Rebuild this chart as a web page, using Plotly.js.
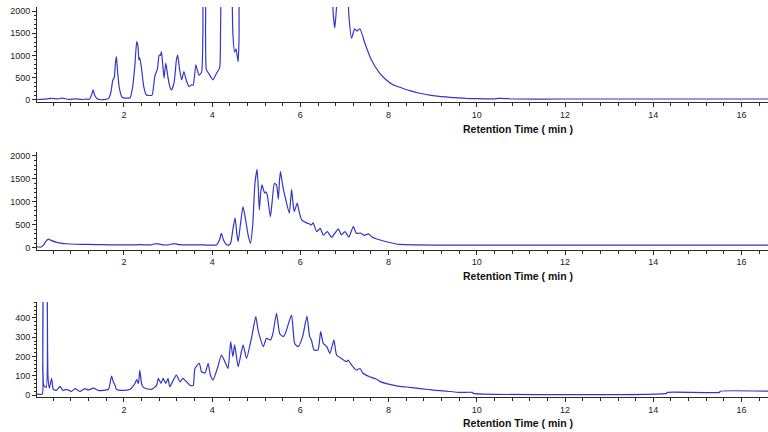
<!DOCTYPE html>
<html>
<head>
<meta charset="utf-8">
<script src="https://cdn.plot.ly/plotly-3.0.1.min.js"></script>
<style>html,body{margin:0;padding:0;background:#fff;}#chart{width:768px;height:432px;}</style>
</head>
<body>
<div id="chart"></div>
<script>
// Chromatogram 1 (top)
const t1 = [0.03,0.2,0.35,0.5,0.6,0.75,0.9,1.05,1.15,1.22,1.27,1.30,1.34,1.40,1.48,1.58,1.65,1.70,1.75,1.78,1.81,1.83,1.86,1.90,1.96,2.05,2.14,2.20,2.25,2.29,2.32,2.34,2.36,2.40,2.45,2.51,2.58,2.64,2.70,2.76,2.80,2.83,2.85,2.88,2.91,2.95,3.0,3.04,3.08,3.14,3.19,3.22,3.26,3.31,3.36,3.42,3.48,3.53,3.57,3.63,3.67,3.70,3.76,3.79,3.81,3.84,3.85,3.87,3.92,3.97,4.02,4.10,4.17,4.19,4.21,4.30,4.44,4.47,4.51,4.54,4.59,4.61,4.63,5.5,6.71,6.74,6.78,6.82,6.86,6.95,7.05,7.10,7.16,7.23,7.28,7.35,7.46,7.61,7.80,7.95,8.10,8.30,8.48,8.70,8.93,9.15,9.39,9.76,10.0,10.4,10.5,10.7,10.8,12,14,16.6];
const y1 = [10,20,35,25,40,15,25,10,20,15,120,225,100,20,5,15,30,150,450,500,850,975,600,250,60,40,50,300,800,1310,1200,900,945,700,300,110,100,110,530,700,1010,1000,1090,800,490,830,500,300,225,400,900,1010,700,450,640,420,300,340,330,790,650,560,620,1500,2600,2600,1500,675,600,520,450,600,720,1500,3000,5000,3000,1500,1080,1150,860,1400,3000,8000,3000,2000,1620,2100,3000,4000,3000,1900,1390,1600,1550,1600,1280,900,600,450,340,270,210,150,110,80,60,35,28,25,35,30,22,22,22,22];

// Chromatogram 2 (middle)
const t2 = [0.03,0.12,0.18,0.24,0.29,0.35,0.48,0.60,0.70,0.9,1.2,1.5,1.8,2.1,2.4,2.6,2.74,2.85,3.0,3.14,3.25,3.5,3.8,4.1,4.16,4.21,4.26,4.32,4.36,4.42,4.47,4.52,4.56,4.59,4.64,4.70,4.76,4.82,4.87,4.92,4.97,5.02,5.05,5.07,5.10,5.13,5.19,5.22,5.25,5.32,5.36,5.41,5.46,5.50,5.53,5.55,5.60,5.67,5.75,5.80,5.83,5.86,5.93,5.98,6.03,6.14,6.20,6.25,6.29,6.37,6.45,6.52,6.61,6.71,6.86,6.93,7.01,7.10,7.20,7.27,7.37,7.45,7.54,7.63,7.73,7.95,8.25,8.6,9.5,10.5,12,14,16.6];
const y2 = [20,15,60,150,185,160,115,95,85,75,70,65,60,60,65,60,90,65,60,90,65,60,60,60,150,310,160,70,55,100,400,650,300,130,500,895,600,250,95,500,1400,1710,1200,820,1200,1370,1190,1220,1150,675,1000,1400,1370,1055,1500,1660,1350,1040,750,1270,1000,785,970,750,605,540,520,495,540,350,420,275,350,225,410,280,350,230,460,315,315,270,300,230,190,130,70,60,55,55,55,55,55];

// Chromatogram 3 (bottom)
const t3 = [0.03,0.15,0.16,0.17,0.185,0.24,0.26,0.28,0.31,0.36,0.40,0.47,0.55,0.62,0.70,0.81,0.89,1.0,1.12,1.19,1.31,1.42,1.53,1.65,1.72,1.76,1.80,1.83,1.98,2.14,2.25,2.29,2.33,2.36,2.40,2.44,2.52,2.63,2.74,2.78,2.84,2.89,2.95,3.0,3.04,3.12,3.19,3.27,3.34,3.42,3.50,3.57,3.61,3.71,3.76,3.84,3.91,3.96,4.02,4.13,4.21,4.29,4.36,4.42,4.47,4.51,4.59,4.70,4.78,4.89,4.99,5.04,5.08,5.16,5.23,5.32,5.37,5.46,5.53,5.61,5.66,5.80,5.87,5.95,6.05,6.15,6.21,6.25,6.31,6.40,6.46,6.52,6.60,6.67,6.76,6.82,6.93,7.05,7.08,7.16,7.27,7.35,7.42,7.57,7.72,7.80,7.95,8.18,8.40,8.63,8.90,9.0,9.3,9.61,9.9,9.92,14.3,14.32,15.5,15.52,16.6];
const y3 = [5,5,140,600,50,40,600,90,36,87,30,24,45,24,30,19,33,19,33,26,36,24,24,30,99,69,50,30,24,30,60,80,60,130,60,40,33,30,50,87,60,87,60,87,43,78,104,69,87,69,50,50,138,165,121,115,165,104,78,147,208,173,138,277,199,260,147,260,190,294,407,338,303,251,294,286,312,424,320,303,320,416,268,251,303,410,303,286,234,234,329,268,251,216,286,208,190,173,182,156,130,138,113,95,83,71,59,48,42,36,29,26,20,14,14,9,9,14,14,20,20];

const xTitle = "Retention Time ( min )";

const lineColor = '#3535c8';
const axisColor = '#2a2a2a';
const tickFont = {family: 'Arial, "Liberation Sans", sans-serif', size: 9, color: '#222'};

function xax(anchor, domain) {
  return {
    anchor: anchor, domain: domain, range: [0.03, 16.6],
    showline: true, linecolor: axisColor, linewidth: 1,
    ticks: 'outside', ticklen: 4, tickwidth: 1, tickcolor: axisColor,
    tick0: 0, dtick: 2, tickfont: tickFont,
    minor: {ticks: 'outside', ticklen: 3, tickwidth: 1, tick0: 0, dtick: 0.4, tickcolor: axisColor, showgrid: false},
    showgrid: false, zeroline: false, fixedrange: true
  };
}
function yax(anchor, domain, range, dtick, mdtick) {
  return {
    anchor: anchor, domain: domain, range: range,
    showline: true, linecolor: axisColor, linewidth: 1,
    ticks: 'outside', ticklen: 4, tickwidth: 1, tickcolor: axisColor,
    tick0: 0, dtick: dtick, tickfont: tickFont,
    minor: {ticks: 'outside', ticklen: 2, tickwidth: 1, tick0: 0, dtick: mdtick, tickcolor: axisColor, showgrid: false},
    showgrid: false, zeroline: false, fixedrange: true
  };
}

const H = 432;
const dom = (top, bottom) => [1 - bottom / H, 1 - top / H];
const xd = [37 / 768, 1];

const lineStyle = {color: lineColor, width: 1.2, shape: 'spline', smoothing: 0.5};
const traces = [
  {x: t1, y: y1, xaxis: 'x', yaxis: 'y', mode: 'lines', line: lineStyle},
  {x: t2, y: y2, xaxis: 'x2', yaxis: 'y2', mode: 'lines', line: lineStyle},
  {x: t3, y: y3, xaxis: 'x3', yaxis: 'y3', mode: 'lines', line: lineStyle}
];

const titleFont = {family: 'Arial, "Liberation Sans", sans-serif', size: 10.5, color: '#111', weight: 'bold'};
function ann(ypx) {
  return {text: xTitle, xref: 'paper', yref: 'paper', x: 461 / 768, xanchor: 'left',
          y: 1 - ypx / H, yanchor: 'middle', showarrow: false, font: titleFont};
}

const layout = {
  width: 768, height: 432,
  margin: {l: 0, r: 0, t: 0, b: 0, pad: 0},
  paper_bgcolor: '#fff', plot_bgcolor: '#fff',
  showlegend: false,
  xaxis: xax('y', xd),
  yaxis: yax('x', dom(7, 102.4), [-55, 2090], 500, 100),
  xaxis2: xax('y2', xd),
  yaxis2: yax('x2', dom(152.3, 249.5), [-40, 2080], 500, 100),
  xaxis3: xax('y3', xd),
  yaxis3: yax('x3', dom(302, 397), [-10, 483], 100, 20),
  annotations: [ann(128.5), ann(275.5), ann(423)]
};

Plotly.newPlot('chart', traces, layout, {staticPlot: true, displayModeBar: false});
</script>
</body>
</html>
